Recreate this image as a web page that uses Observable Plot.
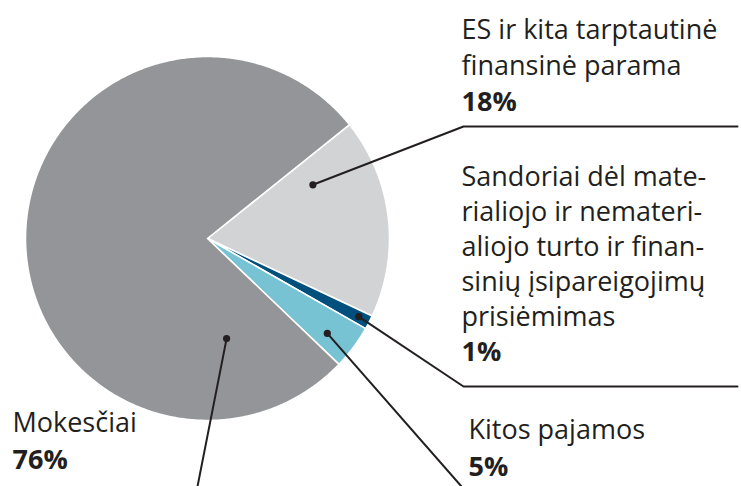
<!DOCTYPE html>
<html>
<head>
<meta charset="utf-8">
<script src="https://cdn.jsdelivr.net/npm/d3@7"></script>
<script src="https://cdn.jsdelivr.net/npm/@observablehq/plot@0.6"></script>
<style>
  html, body { margin: 0; padding: 0; background: #ffffff; }
  #chart svg { display: block; }
</style>
</head>
<body>
<div id="chart"></div>
<script>
// ---- data (clockwise from the top-right edge of the Mokesčiai slice) ----
const categories = [
  "ES ir kita tarptautinė finansinė parama",
  "Sandoriai dėl materialiojo ir nematerialiojo turto ir finansinių įsipareigojimų prisiėmimas",
  "Kitos pajamos",
  "Mokesčiai"
];
const shares = [17.75, 1.25, 3.9, 77.1];           // slice sizes (%)
const pctLabels = ["18%", "1%", "5%", "76%"];      // printed percentages
const nameLines = [
  ["ES ir kita tarptautinė", "finansinė parama"],
  ["Sandoriai dėl mate-", "rialiojo ir nemateri-", "aliojo turto ir finan-", "sinių įsipareigojimų", "prisiėmimas"],
  ["Kitos pajamos"],
  ["Mokesčiai"]
];
const sliceColors = ["#d1d3d4", "#004f7c", "#77c3d4", "#939598"];

// ---- layout ----
const W = 741, H = 486;
const cx = 207, cy = 238, R = 182;
const startDeg = 51.3;
// dot anchors inside slices: [angle (deg, clockwise from 12 o'clock), radius fraction]
const dotAnchors = [[63, 0.65], [117.3, 0.935], [128.4, 0.84], [169.2, 0.56]];
// label layout
const labelX = [461, 461, 468, 12];
const firstBaseline = [38, 185, 438, 431];
const lineStep = [36, 35, 37, 37];
const leaderElbow = [[463, 126], [463, 386], [461, 486], [197, 486]];
const leaderEnd = [[737, 126], [737, 386], null, null];

const rad = d => d * Math.PI / 180;
const px = (deg, r) => cx + r * Math.sin(rad(deg));
const py = (deg, r) => cy - r * Math.cos(rad(deg));

// slice polygons
const total = d3.sum(shares);
const slicePts = [];
let a = startDeg;
categories.forEach((c, i) => {
  const a0 = a, a1 = a + shares[i] / total * 360;
  slicePts.push({cat: c, x: cx, y: cy});
  const n = Math.max(2, Math.ceil((a1 - a0) / 0.5));
  for (let k = 0; k <= n; k++) {
    const t = a0 + (a1 - a0) * k / n;
    slicePts.push({cat: c, x: px(t, R), y: py(t, R)});
  }
  slicePts.push({cat: c, x: cx, y: cy});
  a = a1;
});

const dots = categories.map((c, i) => ({cat: c, x: px(dotAnchors[i][0], R * dotAnchors[i][1]), y: py(dotAnchors[i][0], R * dotAnchors[i][1])}));
const leaders = [];
categories.forEach((c, i) => {
  leaders.push({cat: c, x: dots[i].x, y: dots[i].y});
  leaders.push({cat: c, x: leaderElbow[i][0], y: leaderElbow[i][1]});
  if (leaderEnd[i]) leaders.push({cat: c, x: leaderEnd[i][0], y: leaderEnd[i][1]});
});
const nameRows = [], pctRows = [];
categories.forEach((c, i) => {
  nameLines[i].forEach((t, k) => nameRows.push({cat: c, text: t, x: labelX[i], y: firstBaseline[i] + k * lineStep[i]}));
  pctRows.push({cat: c, text: pctLabels[i], x: labelX[i], y: firstBaseline[i] + nameLines[i].length * lineStep[i]});
});

const ink = "#231f20";
const font = "'Open Sans', 'Noto Sans', sans-serif";

const chart = Plot.plot({
  width: W, height: H,
  margin: 0,
  x: {domain: [0, W], range: [0, W], axis: null},
  y: {domain: [0, H], range: [0, H], axis: null},
  color: {domain: categories, range: sliceColors},
  style: {fontFamily: font, background: "#ffffff"},
  marks: [
    Plot.line(slicePts, {x: "x", y: "y", z: "cat", fill: "cat", stroke: "#ffffff", strokeWidth: 1.6, curve: "linear"}),
    Plot.line(leaders, {x: "x", y: "y", z: "cat", stroke: ink, strokeWidth: 2}),
    Plot.dot(dots, {x: "x", y: "y", r: 3.6, fill: ink, stroke: null}),
    Plot.text(nameRows, {x: "x", y: "y", text: "text", textAnchor: "start", lineAnchor: "bottom", fontSize: 27, fill: ink, fontFamily: font}),
    Plot.text(pctRows, {x: "x", y: "y", text: "text", textAnchor: "start", lineAnchor: "bottom", fontSize: 27, fontWeight: "bold", fill: ink, fontFamily: font})
  ]
});
document.getElementById("chart").appendChild(chart);
</script>
</body>
</html>
